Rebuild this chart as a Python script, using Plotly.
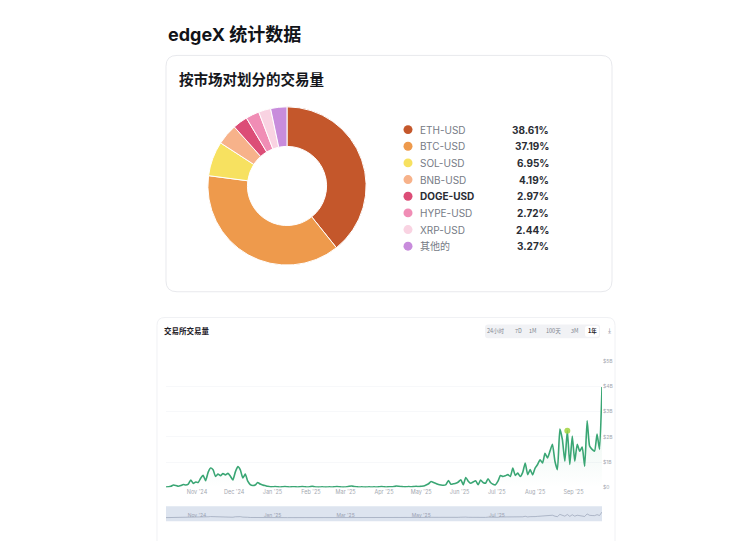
import plotly.graph_objects as go
import pandas as pd

W, H = 750, 541

# ---------------- data ----------------
markets = ["ETH-USD", "BTC-USD", "SOL-USD", "BNB-USD", "DOGE-USD", "HYPE-USD", "XRP-USD", "其他的"]
shares = [38.61, 37.19, 6.95, 4.19, 2.97, 2.72, 2.44, 3.27]
market_colors = ["#C4572B", "#EE9A4C", "#F7E160", "#F7B28A", "#DC4D77", "#F08DB5", "#F9D3E2", "#C88CDC"]

# exchange volume (in $B), sampled every 2 days starting 2024-10-07
vol_start = "2024-10-07"
volume = [
    0.02, 0.03, 0.05, 0.10, 0.08, 0.05, 0.08, 0.12, 0.10, 0.14,
    0.30, 0.16, 0.22, 0.20, 0.37, 0.48, 0.27, 0.60, 0.77, 0.70,
    0.44, 0.53, 0.47, 0.55, 0.50, 0.56, 0.45, 0.30, 0.62, 0.83,
    0.70, 0.38, 0.53, 0.25, 0.12, 0.08, 0.10, 0.20, 0.14, 0.10,
    0.08, 0.05, 0.03,
    0.03, 0.04, 0.03, 0.02, 0.03, 0.04, 0.03, 0.02, 0.03, 0.03,
    0.02, 0.03, 0.04, 0.03, 0.02, 0.03, 0.05, 0.03, 0.02, 0.02,
    0.03, 0.02, 0.02, 0.03, 0.02, 0.03, 0.04, 0.03, 0.02, 0.02,
    0.03, 0.05, 0.06, 0.04, 0.03, 0.02, 0.03, 0.02, 0.02, 0.03,
    0.02, 0.03, 0.02, 0.03, 0.04, 0.03, 0.02, 0.03, 0.03, 0.04,
    0.06, 0.05, 0.04, 0.03, 0.03, 0.04, 0.03, 0.04, 0.05, 0.04,
    0.05, 0.06, 0.10, 0.15, 0.24, 0.20, 0.16, 0.12, 0.10, 0.09,
    0.12, 0.28, 0.13, 0.15, 0.17, 0.22, 0.31, 0.11, 0.40, 0.25,
    0.17, 0.22, 0.27, 0.11, 0.30, 0.20, 0.17, 0.35, 0.20, 0.13,
    0.11, 0.25, 0.48, 0.44, 0.47, 0.51, 0.44, 0.77, 0.48, 0.57,
    0.44, 0.60, 0.97, 0.51, 0.71, 0.50, 0.77, 0.91, 1.10, 0.97,
    1.35, 1.17, 1.44, 1.71, 1.04, 0.71, 2.31, 1.90, 1.04, 2.24,
    0.91, 2.04, 1.04, 1.71, 1.44, 1.60, 0.84, 2.64, 1.64, 1.51,
    1.44, 2.11, 1.51, 3.97,
]
dates = pd.date_range(vol_start, periods=len(volume), freq="2D")

month_ticks = pd.date_range("2024-11-01", "2025-09-01", freq="MS")
nav_ticks = pd.date_range("2024-11-01", "2025-07-01", freq="2MS")
y_tick_vals = [0, 1, 2, 3, 4, 5]
y_tick_text = ["$0", "$1B", "$2B", "$3B", "$4B", "$5B"]

range_buttons = ["24小时", "7D", "1M", "100天", "3M", "1年"]
hover_index = 162  # point highlighted by the hover cursor

# ---------------- helpers ----------------
def px(x):
    return x / W

def py(y):
    return 1 - y / H

def rrect(x0, y0, x1, y1, r):
    pts = [
        ("M", [(x0 + r, y0)]), ("L", [(x1 - r, y0)]), ("Q", [(x1, y0), (x1, y0 + r)]),
        ("L", [(x1, y1 - r)]), ("Q", [(x1, y1), (x1 - r, y1)]), ("L", [(x0 + r, y1)]),
        ("Q", [(x0, y1), (x0, y1 - r)]), ("L", [(x0, y0 + r)]), ("Q", [(x0, y0), (x0 + r, y0)]),
    ]
    s = ""
    for cmd, ps in pts:
        s += cmd + " " + " ".join(f"{px(a):.5f},{py(b):.5f}" for a, b in ps) + " "
    return s + "Z"

FONT = "Inter, Noto Sans CJK SC, sans-serif"
CJK = "Noto Sans CJK SC, Inter, sans-serif"

fig = go.Figure()

# donut
fig.add_trace(go.Pie(
    values=shares, labels=markets, hole=0.5, sort=False, direction="clockwise", rotation=0,
    marker=dict(colors=market_colors, line=dict(color="white", width=1)),
    textinfo="none", showlegend=False, hoverinfo="label+percent",
    domain=dict(x=[px(207), px(367)], y=[py(265), py(105)]),
))

# main volume line
fig.add_trace(go.Scatter(
    x=dates, y=volume, mode="lines", xaxis="x", yaxis="y",
    line=dict(color="#3AA674", width=1.6, shape="spline", smoothing=0.5),
    fill="tozeroy",
    fillgradient=dict(type="vertical",
                      colorscale=[[0, "rgba(61,170,120,0)"], [1, "rgba(61,170,120,0.16)"]]),
    showlegend=False, hoverinfo="x+y",
))

# hover marker
fig.add_trace(go.Scatter(
    x=[dates[hover_index]], y=[volume[hover_index]], mode="markers", xaxis="x", yaxis="y",
    marker=dict(color="rgba(160,210,60,0.85)", size=6, line=dict(width=0)),
    showlegend=False, hoverinfo="skip",
))

# navigator mini line
fig.add_trace(go.Scatter(
    x=dates, y=volume, mode="lines", xaxis="x2", yaxis="y2",
    line=dict(color="#98A2B6", width=0.7), showlegend=False, hoverinfo="skip",
))

shapes = []
annotations = []

# cards
shapes.append(dict(type="path", path=rrect(166, 53, 612, 292, 11), xref="paper", yref="paper",
                   fillcolor="white", line=dict(color="#E8E9ED", width=1), layer="below"))
shapes.append(dict(type="path", path=rrect(157, 318, 615, 560, 8), xref="paper", yref="paper",
                   fillcolor="white", line=dict(color="#F0F1F4", width=1), layer="below"))

# navigator background
shapes.append(dict(type="rect", xref="x2 domain", yref="y2 domain", x0=0, x1=1, y0=0, y1=1,
                   fillcolor="#DDE4EF", line=dict(width=0), layer="below"))

# range button group background
shapes.append(dict(type="path", path=rrect(485, 325, 600, 339, 3), xref="paper", yref="paper",
                   fillcolor="#F1F2F5", line=dict(width=0), layer="below"))
shapes.append(dict(type="path", path=rrect(585, 326.5, 599, 337.5, 2), xref="paper", yref="paper",
                   fillcolor="#FFFFFF", line=dict(width=0), layer="below"))

# titles
annotations.append(dict(text="<b>edgeX 统计数据</b>", x=px(166), y=py(32), xref="paper", yref="paper",
                        xanchor="left", yanchor="middle", showarrow=False,
                        font=dict(family=FONT, size=18, color="#111318")))
annotations.append(dict(text="<b>按市场对划分的交易量</b>", x=px(177), y=py(76), xref="paper", yref="paper",
                        xanchor="left", yanchor="middle", showarrow=False,
                        font=dict(family=CJK, size=14.5, color="#15171C")))
annotations.append(dict(text="<b>交易所交易量</b>", x=px(162), y=py(331), xref="paper", yref="paper",
                        xanchor="left", yanchor="middle", showarrow=False,
                        font=dict(family=CJK, size=7.5, color="#1E2026")))

# legend rows
for i, (m, s, c) in enumerate(zip(markets, shares, market_colors)):
    yy = 128 + 16.85 * i
    shapes.append(dict(type="circle", xref="paper", yref="paper",
                       x0=px(403.5), x1=px(412.5), y0=py(yy + 4.5), y1=py(yy - 4.5),
                       fillcolor=c, line=dict(width=0)))
    active = (m == "DOGE-USD")
    label = f"<b>{m}</b>" if active else m
    annotations.append(dict(text=label, x=px(418), y=py(yy), xref="paper", yref="paper",
                            xanchor="left", yanchor="middle", showarrow=False,
                            font=dict(family=FONT, size=10,
                                      color="#2A2D34" if active else "#767B86")))
    annotations.append(dict(text=f"<b>{s:.2f}%</b>", x=px(551), y=py(yy), xref="paper", yref="paper",
                            xanchor="right", yanchor="middle", showarrow=False,
                            font=dict(family=FONT, size=10, color="#2A2D34")))

# range buttons
btn_x = [496, 518, 533, 553, 575, 592]
for b, bx in zip(range_buttons, btn_x):
    sel = (b == "1年")
    annotations.append(dict(text=f"<b>{b}</b>" if sel else b, x=px(bx), y=py(332), xref="paper", yref="paper",
                            xanchor="center", yanchor="middle", showarrow=False,
                            font=dict(family=CJK, size=5.5, color="#1E2026" if sel else "#80858F")))
annotations.append(dict(text="⤓", x=px(609), y=py(332), xref="paper", yref="paper",
                        xanchor="center", yanchor="middle", showarrow=False,
                        font=dict(family="DejaVu Sans", size=7, color="#80858F")))

fig.update_layout(
    width=W, height=H, margin=dict(l=0, r=0, t=0, b=0),
    paper_bgcolor="white", plot_bgcolor="rgba(0,0,0,0)",
    font=dict(family=FONT),
    xaxis=dict(domain=[px(166), px(602)], range=[dates[0], dates[-1]], type="date",
               tickvals=month_ticks, tickformat="%b '%y",
               tickfont=dict(size=5.5, color="#A3A7AF"),
               showgrid=False, zeroline=False, showline=False, ticks="", anchor="y"),
    yaxis=dict(domain=[py(490), py(362)], range=[0, 5], side="right",
               tickvals=y_tick_vals, ticktext=y_tick_text,
               tickfont=dict(size=5, color="#A3A7AF"),
               showgrid=True, gridcolor="#F7F8FA", gridwidth=0.6, zeroline=False, anchor="x"),
    xaxis2=dict(domain=[px(166), px(602)], range=[dates[0], dates[-1]], type="date",
                tickvals=nav_ticks, tickformat="%b '%y", ticklabelposition="inside",
                tickfont=dict(size=5, color="#9AA2B2"),
                showgrid=False, zeroline=False, showline=False, ticks="", anchor="y2"),
    yaxis2=dict(domain=[py(524), py(509)], range=[-2.5, 8], visible=False, anchor="x2"),
    shapes=shapes, annotations=annotations,
)

fig.write_html(
    "out.html",
    config={"displayModeBar": False},
    post_script="document.body.style.margin='0';document.body.style.overflow='hidden';",
)
